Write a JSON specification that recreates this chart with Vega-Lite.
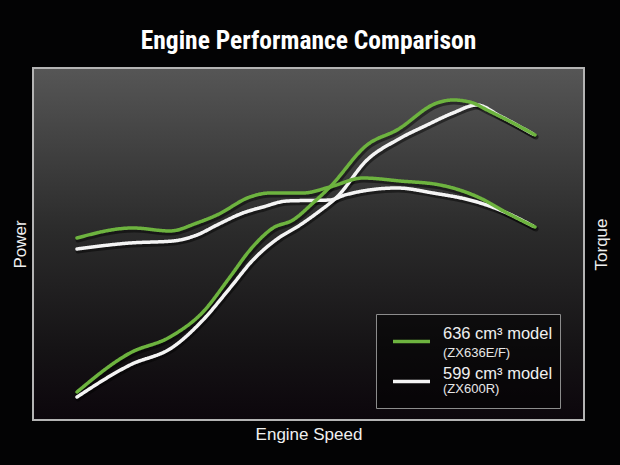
{
"$schema": "https://vega.github.io/schema/vega-lite/v6.json",
"width": 551, "height": 352,
"autosize": {"type": "none"},
"padding": {"left": 33, "top": 68, "right": 36, "bottom": 45},
"background": "#030304",
"title": {"text": "Engine Performance Comparison", "font": "Roboto Condensed, Noto Sans Condensed, Liberation Sans Narrow, DejaVu Sans Condensed, sans-serif", "fontSize": 25.5, "fontWeight": "bold", "color": "#ffffff", "anchor": "middle", "baseline": "alphabetic", "offset": -7},
"datasets": {
"frame": [{"x": 0, "x2": 551, "y": 0, "y2": 352}],
"curves": [
{"model":"599 cm³ model","sub":"(ZX600R)","curve":"torque","speed":44,"value":171},
{"model":"599 cm³ model","sub":"(ZX600R)","curve":"torque","speed":97,"value":177},
{"model":"599 cm³ model","sub":"(ZX600R)","curve":"torque","speed":140,"value":179},
{"model":"599 cm³ model","sub":"(ZX600R)","curve":"torque","speed":164,"value":185},
{"model":"599 cm³ model","sub":"(ZX600R)","curve":"torque","speed":184,"value":195},
{"model":"599 cm³ model","sub":"(ZX600R)","curve":"torque","speed":210,"value":207},
{"model":"599 cm³ model","sub":"(ZX600R)","curve":"torque","speed":230,"value":213},
{"model":"599 cm³ model","sub":"(ZX600R)","curve":"torque","speed":254,"value":219},
{"model":"599 cm³ model","sub":"(ZX600R)","curve":"torque","speed":297,"value":220},
{"model":"599 cm³ model","sub":"(ZX600R)","curve":"torque","speed":312,"value":225},
{"model":"599 cm³ model","sub":"(ZX600R)","curve":"torque","speed":364,"value":232},
{"model":"599 cm³ model","sub":"(ZX600R)","curve":"torque","speed":400,"value":227},
{"model":"599 cm³ model","sub":"(ZX600R)","curve":"torque","speed":444,"value":218},
{"model":"599 cm³ model","sub":"(ZX600R)","curve":"torque","speed":474,"value":207},
{"model":"599 cm³ model","sub":"(ZX600R)","curve":"torque","speed":500,"value":194},
{"model":"599 cm³ model","sub":"(ZX600R)","curve":"power","speed":44,"value":23},
{"model":"599 cm³ model","sub":"(ZX600R)","curve":"power","speed":97,"value":55},
{"model":"599 cm³ model","sub":"(ZX600R)","curve":"power","speed":140,"value":73},
{"model":"599 cm³ model","sub":"(ZX600R)","curve":"power","speed":170,"value":100},
{"model":"599 cm³ model","sub":"(ZX600R)","curve":"power","speed":197,"value":132},
{"model":"599 cm³ model","sub":"(ZX600R)","curve":"power","speed":220,"value":160},
{"model":"599 cm³ model","sub":"(ZX600R)","curve":"power","speed":247,"value":183},
{"model":"599 cm³ model","sub":"(ZX600R)","curve":"power","speed":264,"value":193},
{"model":"599 cm³ model","sub":"(ZX600R)","curve":"power","speed":284,"value":207},
{"model":"599 cm³ model","sub":"(ZX600R)","curve":"power","speed":304,"value":223},
{"model":"599 cm³ model","sub":"(ZX600R)","curve":"power","speed":334,"value":260},
{"model":"599 cm³ model","sub":"(ZX600R)","curve":"power","speed":364,"value":280},
{"model":"599 cm³ model","sub":"(ZX600R)","curve":"power","speed":394,"value":295},
{"model":"599 cm³ model","sub":"(ZX600R)","curve":"power","speed":420,"value":307},
{"model":"599 cm³ model","sub":"(ZX600R)","curve":"power","speed":444,"value":315},
{"model":"599 cm³ model","sub":"(ZX600R)","curve":"power","speed":467,"value":304},
{"model":"599 cm³ model","sub":"(ZX600R)","curve":"power","speed":500,"value":286},
{"model":"636 cm³ model","sub":"(ZX636E/F)","curve":"torque","speed":44,"value":182},
{"model":"636 cm³ model","sub":"(ZX636E/F)","curve":"torque","speed":100,"value":192},
{"model":"636 cm³ model","sub":"(ZX636E/F)","curve":"torque","speed":137,"value":189},
{"model":"636 cm³ model","sub":"(ZX636E/F)","curve":"torque","speed":164,"value":197},
{"model":"636 cm³ model","sub":"(ZX636E/F)","curve":"torque","speed":184,"value":205},
{"model":"636 cm³ model","sub":"(ZX636E/F)","curve":"torque","speed":217,"value":223},
{"model":"636 cm³ model","sub":"(ZX636E/F)","curve":"torque","speed":237,"value":227},
{"model":"636 cm³ model","sub":"(ZX636E/F)","curve":"torque","speed":270,"value":227},
{"model":"636 cm³ model","sub":"(ZX636E/F)","curve":"torque","speed":297,"value":233},
{"model":"636 cm³ model","sub":"(ZX636E/F)","curve":"torque","speed":330,"value":242},
{"model":"636 cm³ model","sub":"(ZX636E/F)","curve":"torque","speed":367,"value":239},
{"model":"636 cm³ model","sub":"(ZX636E/F)","curve":"torque","speed":407,"value":235},
{"model":"636 cm³ model","sub":"(ZX636E/F)","curve":"torque","speed":447,"value":222},
{"model":"636 cm³ model","sub":"(ZX636E/F)","curve":"torque","speed":474,"value":207},
{"model":"636 cm³ model","sub":"(ZX636E/F)","curve":"torque","speed":502,"value":193},
{"model":"636 cm³ model","sub":"(ZX636E/F)","curve":"power","speed":44,"value":28},
{"model":"636 cm³ model","sub":"(ZX636E/F)","curve":"power","speed":97,"value":67},
{"model":"636 cm³ model","sub":"(ZX636E/F)","curve":"power","speed":137,"value":83},
{"model":"636 cm³ model","sub":"(ZX636E/F)","curve":"power","speed":170,"value":108},
{"model":"636 cm³ model","sub":"(ZX636E/F)","curve":"power","speed":197,"value":143},
{"model":"636 cm³ model","sub":"(ZX636E/F)","curve":"power","speed":217,"value":170},
{"model":"636 cm³ model","sub":"(ZX636E/F)","curve":"power","speed":240,"value":192},
{"model":"636 cm³ model","sub":"(ZX636E/F)","curve":"power","speed":260,"value":200},
{"model":"636 cm³ model","sub":"(ZX636E/F)","curve":"power","speed":280,"value":217},
{"model":"636 cm³ model","sub":"(ZX636E/F)","curve":"power","speed":297,"value":233},
{"model":"636 cm³ model","sub":"(ZX636E/F)","curve":"power","speed":334,"value":275},
{"model":"636 cm³ model","sub":"(ZX636E/F)","curve":"power","speed":364,"value":290},
{"model":"636 cm³ model","sub":"(ZX636E/F)","curve":"power","speed":404,"value":317},
{"model":"636 cm³ model","sub":"(ZX636E/F)","curve":"power","speed":420,"value":320},
{"model":"636 cm³ model","sub":"(ZX636E/F)","curve":"power","speed":440,"value":317},
{"model":"636 cm³ model","sub":"(ZX636E/F)","curve":"power","speed":454,"value":310},
{"model":"636 cm³ model","sub":"(ZX636E/F)","curve":"power","speed":480,"value":297},
{"model":"636 cm³ model","sub":"(ZX636E/F)","curve":"power","speed":502,"value":285}
]},
"layer": [
{"data": {"name": "frame"},
 "mark": {"type": "rect", "stroke": "#b4b4b4", "strokeWidth": 2,
   "fill": {"gradient": "linear", "x1": 0, "y1": 0, "x2": 0, "y2": 1, "stops": [
     {"offset": 0, "color": "#565656"}, {"offset": 0.45, "color": "#2c2c2c"}, {"offset": 0.8, "color": "#151315"}, {"offset": 1, "color": "#0c060c"}]}},
 "encoding": {
   "x": {"field": "x", "type": "quantitative", "scale": {"domain": [0, 551], "nice": false, "zero": false}, "axis": {"title": "Engine Speed", "orient": "bottom", "titlePadding": 6}},
   "x2": {"field": "x2"},
   "y": {"field": "y", "type": "quantitative", "scale": {"domain": [0, 352], "nice": false, "zero": false}, "axis": {"title": "Power", "orient": "left", "titleBaseline": "alphabetic", "titlePadding": 8}},
   "y2": {"field": "y2"}}},
{"data": {"name": "curves"},
 "mark": {"type": "line", "interpolate": "monotone", "stroke": "#000000", "strokeWidth": 5, "opacity": 0.45, "xOffset": 1, "yOffset": 2, "strokeCap": "round"},
 "encoding": {
   "x": {"field": "speed", "type": "quantitative", "scale": {"domain": [0, 551], "nice": false, "zero": false}, "axis": {"title": "Engine Speed", "orient": "bottom", "titlePadding": 6}},
   "y": {"field": "value", "type": "quantitative", "scale": {"domain": [0, 352], "nice": false, "zero": false}, "axis": null},
   "detail": [{"field": "model"}, {"field": "curve"}]}},
{"data": {"name": "curves"},
 "mark": {"type": "line", "interpolate": "monotone", "strokeWidth": 3.5, "strokeCap": "round"},
 "encoding": {
   "x": {"field": "speed", "type": "quantitative", "scale": {"domain": [0, 551], "nice": false, "zero": false}, "axis": {"title": "Engine Speed", "orient": "bottom", "titlePadding": 6}},
   "y": {"field": "value", "type": "quantitative", "scale": {"domain": [0, 352], "nice": false, "zero": false}, "axis": {"title": "Torque", "orient": "right", "titleAngle": -90, "titleBaseline": "alphabetic", "titlePadding": 22}},
   "color": {"field": "model", "type": "nominal",
     "scale": {"domain": ["636 cm³ model", "599 cm³ model"], "range": ["#6db33f", "#f4f4f4"]},
     "legend": {"orient": "none", "legendX": 343, "legendY": 246, "title": null, "padding": 7, "symbolType": "stroke", "symbolSize": 1369, "symbolStrokeWidth": 3.5, "symbolOffset": 8, "labelOffset": 11, "labelFont": "Liberation Sans", "labelFontSize": 16.5, "labelColor": "#f0f0f0", "labelBaseline": "bottom", "labelExpr": "[datum.label + '\u2002\u2009\u2009', ' ']", "rowPadding": 0, "strokeColor": "#8c8c8c", "fillColor": "rgba(0,0,0,0.5)"}},
   "strokeDash": {"field": "sub", "type": "nominal",
     "scale": {"domain": ["(ZX636E/F)", "(ZX600R)"], "range": [[1, 0], [1, 0]]},
     "legend": {"orient": "none", "legendX": 343, "legendY": 249, "title": null, "padding": 7, "symbolType": "stroke", "symbolSize": 1369, "symbolStrokeWidth": 3.5, "symbolOpacity": 0, "symbolStrokeColor": "transparent", "symbolOffset": 8, "labelOffset": 11, "labelFont": "Liberation Sans", "labelFontSize": 13, "labelColor": "#e8e8e8", "labelBaseline": "bottom", "labelExpr": "[' ', datum.label]", "rowPadding": 0}},
   "detail": {"field": "curve"}}}
],
"resolve": {"axis": {"y": "independent"}},
"config": {
  "view": {"stroke": null},
  "axis": {"domain": false, "ticks": false, "labels": false, "grid": false, "titleColor": "#f0f0f0", "titleFont": "Liberation Sans", "titleFontSize": 17, "titleFontWeight": "normal"}
}
}
